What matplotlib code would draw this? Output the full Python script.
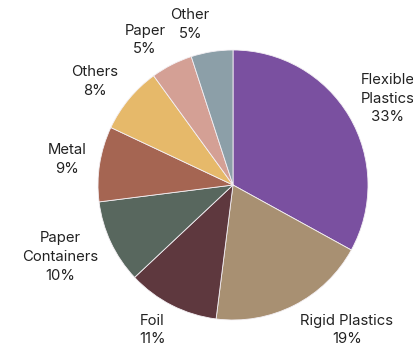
import numpy as np
import matplotlib
matplotlib.use('Agg')
import matplotlib.pyplot as plt

# Share of packaging waste by material
labels = ['Flexible\nPlastics\n33%', 'Rigid Plastics\n19%', 'Foil\n11%',
          'Paper\nContainers\n10%', 'Metal\n9%', 'Others\n8%', 'Paper\n5%', 'Other\n5%']
shares = [33, 19, 11, 10, 9, 8, 5, 5]
colors = ['#7A50A0', '#A89072', '#5E383E', '#58675E',
          '#A56552', '#E6B96A', '#D4A095', '#8C9FA8']

plt.rcParams['font.family'] = ['Inter', 'DejaVu Sans']

fig = plt.figure(figsize=(4.14, 3.51), dpi=100)
# pie centred at (233, 185) px with radius 135 px
ax = fig.add_axes([(233 - 135) / 414, (351 - 185 - 135) / 351, 270 / 414, 270 / 351])

wedges, _ = ax.pie(shares, colors=colors, startangle=90, counterclock=False,
                   wedgeprops=dict(edgecolor='#f4f0f4', linewidth=0.6))

# labels sit just outside the rim, pushed away from it by part of their height
line_px = 19
for w, lab in zip(wedges, labels):
    ang = np.deg2rad((w.theta1 + w.theta2) / 2)
    c, s = np.cos(ang), np.sin(ang)
    nlines = lab.count('\n') + 1
    dy = s * nlines * line_px / 2 * 0.75 * 0.72
    ax.annotate(lab, xy=(1.1 * c, 1.1 * s), xytext=(0, dy), textcoords='offset points',
                ha='left' if c > 0 else 'right', va='center', multialignment='center',
                fontsize=10.7, color='#222222', linespacing=1.45, annotation_clip=False)

ax.set_xlim(-1, 1)
ax.set_ylim(-1, 1)
ax.set_aspect('equal')

fig.savefig('out.png', dpi=100)
